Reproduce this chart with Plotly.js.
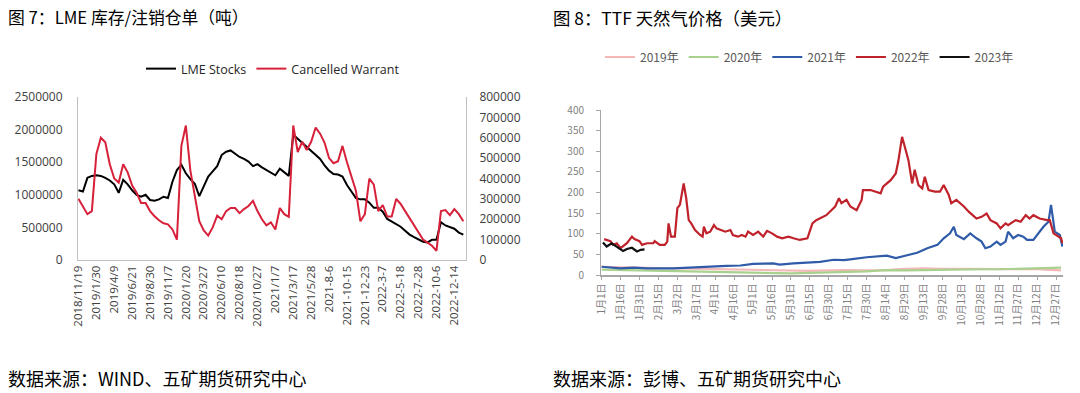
<!DOCTYPE html>
<html>
<head>
<meta charset="utf-8">
<script src="https://cdn.plot.ly/plotly-3.0.1.min.js"></script>
<style>
html,body{margin:0;padding:0;background:#fff;}
#chart{width:1080px;height:393px;}
</style>
</head>
<body>
<div id="chart"></div>
<script>
// ---------- Left chart: LME stocks / cancelled warrants (tonnes) ----------
const lmeDateLabels = ["2018/11/19","2019/1/30","2019/4/9","2019/6/21","2019/8/30","2019/11/7",
  "2020/1/20","2020/3/27","2020/6/10","2020/8/18","2020/10/27","2021/1/7","2021/3/17","2021/5/28",
  "2021-8-6","2021-10-15","2021-12-23","2022-3-7","2022-5-18","2022-7-28","2022-10-6","2022-12-14"];
const samplesPerLabel = 4;

const lmeStocks = [1070000,1050000,1260000,1290000,1300000,1290000,1260000,1220000,1160000,1030000,
  1230000,1160000,1070000,1000000,970000,1000000,920000,910000,930000,970000,
  950000,1200000,1380000,1460000,1330000,1240000,1170000,980000,1130000,1280000,
  1360000,1440000,1610000,1660000,1680000,1630000,1580000,1550000,1510000,1440000,
  1470000,1420000,1380000,1340000,1300000,1400000,1350000,1290000,1920000,1860000,
  1800000,1740000,1680000,1620000,1550000,1450000,1370000,1320000,1310000,1280000,
  1150000,1050000,950000,930000,930000,880000,800000,800000,740000,630000,
  590000,560000,510000,450000,390000,350000,310000,280000,270000,310000,
  310000,580000,530000,500000,480000,420000,390000];

const cancelledWarrant = [300000,265000,225000,240000,520000,600000,578000,470000,400000,380000,
  470000,430000,365000,330000,280000,280000,240000,215000,195000,180000,
  175000,150000,100000,560000,660000,440000,320000,190000,145000,120000,
  160000,218000,200000,240000,255000,255000,230000,250000,265000,290000,
  240000,200000,170000,185000,150000,255000,225000,212000,660000,530000,
  580000,540000,580000,650000,620000,575000,500000,475000,485000,560000,
  480000,410000,340000,190000,225000,400000,370000,240000,270000,213000,
  213000,300000,275000,240000,205000,170000,135000,100000,85000,70000,
  45000,240000,245000,220000,250000,225000,190000];

// ---------- Right chart: TTF natural gas price (by day of year) ----------
const ttfTickLabels = ["1月1日","1月16日","1月31日","2月15日","3月2日","3月17日","4月1日","4月16日",
  "5月1日","5月16日","5月31日","6月15日","6月30日","7月15日","7月30日","8月14日","8月29日",
  "9月13日","9月28日","10月13日","10月28日","11月12日","11月27日","12月12日","12月27日"];
const ttfTickDays = [0,15,30,45,60,75,90,105,120,135,150,165,180,195,210,225,240,255,270,285,300,315,330,345,360];

const days2019 = [0,10,20,30,45,60,75,90,105,120,135,150,165,180,195,210,225,240,255,270,285,300,315,330,345,360,364];
const ttf2019  = [20,19,19,18,17,16,15,15,14,13,12,11,10,11,12,11,12,15,16,15,15,14,15,15,14,12,11];

const days2020 = [0,15,30,45,60,75,90,105,120,135,150,165,180,195,210,225,240,255,270,285,300,315,330,345,360,364];
const ttf2020  = [13,12,11,10,9,8,7,7,5,5,4,5,6,7,9,12,11,12,13,13,14,14,15,16,17,18];

const days2021 = [0,3,15,25,36,57,75,89,99,110,120,136,141,152,163,173,184,192,197,210,226,233,242,250,258,262,266,271,276,279,281,287,292,297,301,304,308,313,316,320,322,326,330,334,337,342,345,350,354,356,359,363,365];
const ttf2021  = [20,19,16,18,16,16,19,20,22,23,27,28,25,28,30,32,37,36,38,43,47,41,48,54,65,69,73,89,101,117,97,87,101,89,81,65,69,81,73,81,105,89,97,93,85,85,97,117,129,170,105,97,69];

const days2022 = [2,4,7,9,12,15,17,20,24,26,30,32,36,41,42,46,50,52,53,55,58,60,62,65,67,69,71,74,78,80,81,83,86,89,91,95,98,102,104,108,111,114,116,120,124,128,131,135,139,143,148,152,157,163,167,170,173,178,185,188,190,194,197,202,206,207,213,217,221,223,229,233,235,238,242,243,246,248,251,254,256,259,264,268,271,275,277,281,287,291,297,301,305,308,313,316,320,322,328,332,336,339,342,347,353,355,358,362,364,365];
const ttf2022  = [87,85,82,73,77,65,69,77,93,87,82,73,77,77,82,73,73,81,125,93,93,162,170,222,186,133,125,109,97,93,117,101,105,121,113,109,105,109,97,93,97,93,105,97,105,93,107,101,93,89,93,89,85,89,125,133,137,145,166,186,174,182,166,157,182,206,206,202,198,214,230,246,275,335,295,279,222,255,218,210,238,206,202,202,218,194,174,182,166,153,137,141,149,133,125,113,125,121,133,129,145,137,145,137,133,133,101,93,89,77];

const days2023 = [1,4,8,12,14,17,20,24,28,31,34];
const ttf2023  = [79,69,77,69,66,58,63,66,57,61,62];

const seriesNames = ["2019年","2020年","2021年","2022年","2023年"];
const seriesColors = ["#F4B8B8","#A9D18E","#2F5BA8","#C0222B","#111111"];

// ---------- traces ----------
const idx = arr => arr.map((_, i) => i);
const traces = [
  {x: idx(lmeStocks), y: lmeStocks, name: "LME Stocks", type: "scatter", mode: "lines",
   line: {color: "#000000", width: 2}, xaxis: "x", yaxis: "y", legend: "legend"},
  {x: idx(cancelledWarrant), y: cancelledWarrant, name: "Cancelled Warrant", type: "scatter", mode: "lines",
   line: {color: "#D7213A", width: 2}, xaxis: "x", yaxis: "y2", legend: "legend"}
];
const ttfDays = [days2019, days2020, days2021, days2022, days2023];
const ttfVals = [ttf2019, ttf2020, ttf2021, ttf2022, ttf2023];
seriesNames.forEach((n, k) => {
  traces.push({x: ttfDays[k], y: ttfVals[k], name: n, type: "scatter", mode: "lines",
    line: {color: seriesColors[k], width: 2.2}, xaxis: "x2", yaxis: "y3", legend: "legend2"});
});

const W = 1080, H = 393;
const px = v => v / W, py = v => 1 - v / H;

const leftTickFont = {family: "Open Sans, Liberation Sans, sans-serif", size: 12, color: "#404040"};
const rightTickFont = {family: "Noto Sans CJK SC, sans-serif", size: 10, color: "#7f7f7f"};
const cjk = "Noto Sans CJK SC, sans-serif";

const layout = {
  width: W, height: H,
  margin: {l: 0, r: 0, t: 0, b: 0},
  paper_bgcolor: "#ffffff", plot_bgcolor: "rgba(0,0,0,0)",
  showlegend: true,
  xaxis: {
    domain: [px(78), px(466)], anchor: "y",
    range: [-0.1, 86.6], showgrid: false, zeroline: false,
    showline: true, linecolor: "#bfbfbf", linewidth: 1,
    tickmode: "array", tickvals: lmeDateLabels.map((_, k) => k * samplesPerLabel),
    ticktext: lmeDateLabels, tickangle: -90, ticks: "",
    tickfont: {family: "Open Sans, Liberation Sans, sans-serif", size: 11.5, color: "#404040"}
  },
  yaxis: {
    domain: [py(260), py(97)], anchor: "x",
    range: [0, 2500000], dtick: 500000, tickformat: "d",
    showgrid: false, zeroline: false, showline: true, linecolor: "#bfbfbf", linewidth: 1,
    ticks: "", ticklabelstandoff: 12, tickfont: leftTickFont
  },
  yaxis2: {
    overlaying: "y", side: "right", anchor: "x",
    range: [0, 800000], dtick: 100000, tickformat: "d",
    showgrid: false, zeroline: false, showline: true, linecolor: "#bfbfbf", linewidth: 1,
    ticks: "", ticklabelstandoff: 10, tickfont: leftTickFont
  },
  xaxis2: {
    domain: [px(601), px(1063)], anchor: "y3",
    range: [-0.5, 365.5], showgrid: false, zeroline: false,
    showline: true, linecolor: "#a6a6a6", linewidth: 1.5,
    tickmode: "array", tickvals: ttfTickDays, ticktext: ttfTickLabels, tickangle: -90,
    ticks: "outside", ticklen: 3, tickcolor: "#a6a6a6", tickfont: rightTickFont
  },
  yaxis3: {
    domain: [py(275), py(110)], anchor: "x2",
    range: [0, 400], dtick: 50,
    showgrid: false, zeroline: false, showline: true, linecolor: "#a6a6a6", linewidth: 1,
    ticks: "outside", ticklen: 4, tickcolor: "#a6a6a6", ticklabelstandoff: 10, tickfont: rightTickFont
  },
  legend: {
    orientation: "h", x: px(141), y: py(69), xanchor: "left", yanchor: "middle",
    bgcolor: "rgba(0,0,0,0)", borderwidth: 0,
    font: {family: "Open Sans, Liberation Sans, sans-serif", size: 12.5, color: "#262626"}
  },
  legend2: {
    orientation: "h", x: px(600), y: py(57), xanchor: "left", yanchor: "middle",
    bgcolor: "rgba(0,0,0,0)", borderwidth: 0,
    font: {family: cjk, size: 12, color: "#595959"}
  },
  annotations: [
    {text: "图 7：LME 库存/注销仓单（吨）", xref: "paper", yref: "paper", x: px(6), y: py(17),
     xanchor: "left", yanchor: "middle", showarrow: false,
     font: {family: cjk, size: 16.8, color: "#000000"}},
    {text: "图 8：TTF 天然气价格（美元）", xref: "paper", yref: "paper", x: px(551), y: py(17),
     xanchor: "left", yanchor: "middle", showarrow: false,
     font: {family: cjk, size: 17.4, color: "#000000"}},
    {text: "数据来源：WIND、五矿期货研究中心", xref: "paper", yref: "paper", x: px(6), y: py(378),
     xanchor: "left", yanchor: "middle", showarrow: false,
     font: {family: cjk, size: 18, color: "#000000"}},
    {text: "数据来源：彭博、五矿期货研究中心", xref: "paper", yref: "paper", x: px(551), y: py(378),
     xanchor: "left", yanchor: "middle", showarrow: false,
     font: {family: cjk, size: 18, color: "#000000"}}
  ]
};

Plotly.newPlot("chart", traces, layout, {displayModeBar: false, staticPlot: true});
</script>
</body>
</html>
